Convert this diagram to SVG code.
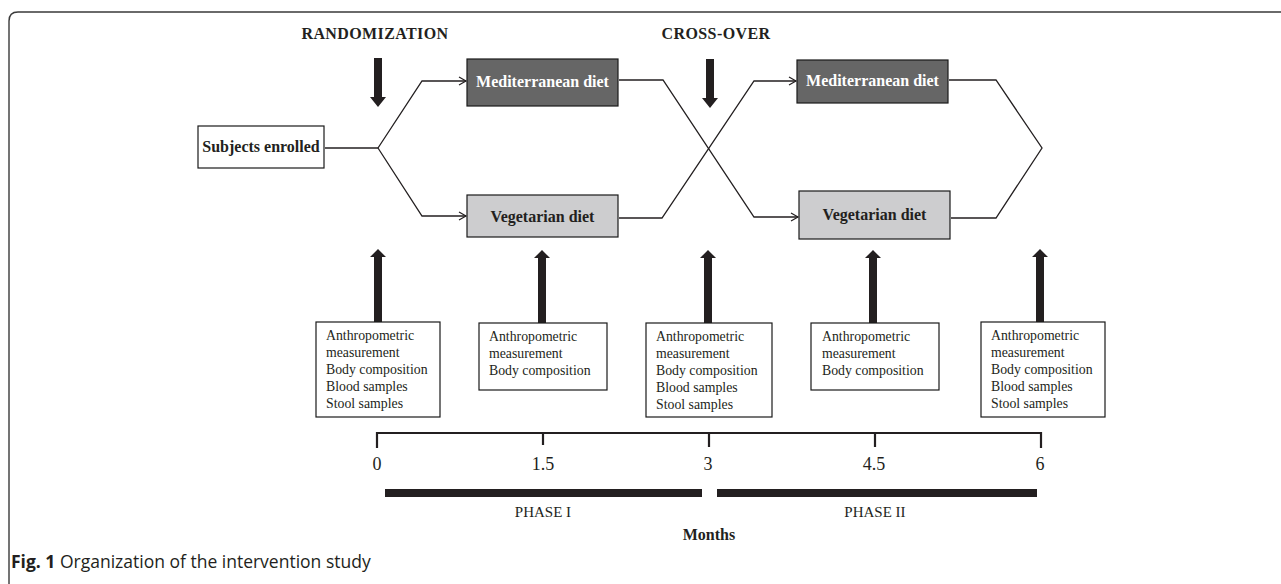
<svg xmlns="http://www.w3.org/2000/svg" xmlns:xlink="http://www.w3.org/1999/xlink" width="1281" height="584" viewBox="0 0 1281 584">
<style>
.frame{fill:none;stroke:#3a3a3a;stroke-width:1.4}
.box{stroke:#1a1a1a;stroke-width:1.2}
.dark{fill:#666666}
.light{fill:#cdcdcf}
.white{fill:#ffffff}
.lbl{font-family:"Liberation Serif",serif;font-weight:bold;font-size:16px;text-anchor:middle}
.lblw{fill:#ffffff}
.lblk{fill:#231f20}
.meas{font-family:"Liberation Serif",serif;font-size:13.8px;fill:#231f20}
.head{font-family:"Liberation Serif",serif;font-weight:bold;font-size:16px;fill:#231f20;text-anchor:middle;letter-spacing:0.4px}
.num{font-family:"Liberation Serif",serif;font-size:18px;fill:#231f20;text-anchor:middle}
.phase{font-family:"Liberation Serif",serif;font-size:15px;fill:#231f20;text-anchor:middle}
.conn{fill:none;stroke:#231f20;stroke-width:1.3}
.thick{fill:#231f20}
.axis{fill:none;stroke:#231f20;stroke-width:2.2}
.cap{font-family:"Open Sans","Noto Sans",sans-serif;font-size:17.5px;fill:#231f20}
</style>
<defs>
<marker id="chev" markerUnits="userSpaceOnUse" markerWidth="12" markerHeight="12" refX="8" refY="5" orient="auto" viewBox="0 0 12 10">
<path d="M1,1 L8,5 L1,9" fill="none" stroke="#231f20" stroke-width="1.2"/>
</marker>
<path id="up" d="M0,0 L8,8 L4,8 L4,73 L-4,73 L-4,8 L-8,8 Z"/>
<path id="down" d="M-4,0 L4,0 L4,39 L8,39 L0,49 L-8,39 L-4,39 Z"/>
</defs>
<rect width="1281" height="584" fill="#ffffff"/>
<path class="frame" d="M9,584 V21 Q9,12 18,12 H1281"/>

<g id="headings">
<text class="head" x="375" y="39">RANDOMIZATION</text>
<text class="head" x="716" y="39">CROSS-OVER</text>
</g>

<g id="connectors">
<line class="conn" x1="325" y1="148" x2="378" y2="148" stroke-width="1.8"/>
<polyline class="conn" points="378,148 422,81 466,81" marker-end="url(#chev)"/>
<polyline class="conn" points="378,148 422,216 466,216" marker-end="url(#chev)"/>
<polyline class="conn" points="619,80 663,80 754,217 798,217" marker-end="url(#chev)"/>
<polyline class="conn" points="619,218 662,218 754,81 796,81" marker-end="url(#chev)"/>
<polyline class="conn" points="949,80 996,80 1042,148 996,218 951,218"/>
<use xlink:href="#down" class="thick" x="378" y="58"/>
<use xlink:href="#down" class="thick" x="710" y="59"/>
<use xlink:href="#up" class="thick" x="378" y="249"/>
<use xlink:href="#up" class="thick" x="542" y="250"/>
<use xlink:href="#up" class="thick" x="708" y="250"/>
<use xlink:href="#up" class="thick" x="873" y="250"/>
<use xlink:href="#up" class="thick" x="1040" y="249"/>
</g>

<g id="subjects">
<rect class="box white" x="198" y="126" width="126" height="42"/>
<text class="lbl lblk" x="261" y="152">Subjects enrolled</text>
</g>
<g id="med1">
<rect class="box dark" x="467" y="59" width="151" height="47"/>
<text class="lbl lblw" x="542.5" y="87">Mediterranean diet</text>
</g>
<g id="veg1">
<rect class="box light" x="467" y="195" width="151" height="42"/>
<text class="lbl lblk" x="542.5" y="222">Vegetarian diet</text>
</g>
<g id="med2">
<rect class="box dark" x="797" y="60" width="151" height="43"/>
<text class="lbl lblw" x="872.5" y="86">Mediterranean diet</text>
</g>
<g id="veg2">
<rect class="box light" x="799" y="191" width="151" height="48"/>
<text class="lbl lblk" x="874.5" y="220">Vegetarian diet</text>
</g>

<g id="m0">
<rect class="box white" x="316" y="322" width="124" height="95"/>
<text class="meas" x="326" y="340">Anthropometric</text>
<text class="meas" x="326" y="357">measurement</text>
<text class="meas" x="326" y="374">Body composition</text>
<text class="meas" x="326" y="391">Blood samples</text>
<text class="meas" x="326" y="408">Stool samples</text>
</g>
<g id="m15">
<rect class="box white" x="479" y="323" width="128" height="67"/>
<text class="meas" x="489" y="341">Anthropometric</text>
<text class="meas" x="489" y="358">measurement</text>
<text class="meas" x="489" y="375">Body composition</text>
</g>
<g id="m3">
<rect class="box white" x="646" y="323" width="126" height="94"/>
<text class="meas" x="656" y="341">Anthropometric</text>
<text class="meas" x="656" y="358">measurement</text>
<text class="meas" x="656" y="375">Body composition</text>
<text class="meas" x="656" y="392">Blood samples</text>
<text class="meas" x="656" y="409">Stool samples</text>
</g>
<g id="m45">
<rect class="box white" x="811" y="323" width="128" height="67"/>
<text class="meas" x="822" y="341">Anthropometric</text>
<text class="meas" x="822" y="358">measurement</text>
<text class="meas" x="822" y="375">Body composition</text>
</g>
<g id="m6">
<rect class="box white" x="981" y="322" width="124" height="95"/>
<text class="meas" x="991" y="340">Anthropometric</text>
<text class="meas" x="991" y="357">measurement</text>
<text class="meas" x="991" y="374">Body composition</text>
<text class="meas" x="991" y="391">Blood samples</text>
<text class="meas" x="991" y="408">Stool samples</text>
</g>

<g id="timeline">
<path class="axis" d="M377,448 V433 H1041 V448"/>
<path class="axis" d="M543,433 V445 M709,433 V447 M875,433 V447" stroke-width="2"/>
<text class="num" x="377" y="470">0</text>
<text class="num" x="543" y="470">1.5</text>
<text class="num" x="708" y="470">3</text>
<text class="num" x="874" y="470">4.5</text>
<text class="num" x="1040" y="470">6</text>
<rect class="thick" x="385" y="489" width="317" height="8"/>
<rect class="thick" x="717" y="489" width="320" height="8"/>
<text class="phase" x="543" y="517">PHASE I</text>
<text class="phase" x="875" y="517">PHASE II</text>
<text class="lbl lblk" x="709" y="540" font-size="14">Months</text>
</g>

<g id="caption">
<text class="cap" x="11" y="568"><tspan font-weight="bold">Fig. 1</tspan> Organization of the intervention study</text>
</g>
</svg>
